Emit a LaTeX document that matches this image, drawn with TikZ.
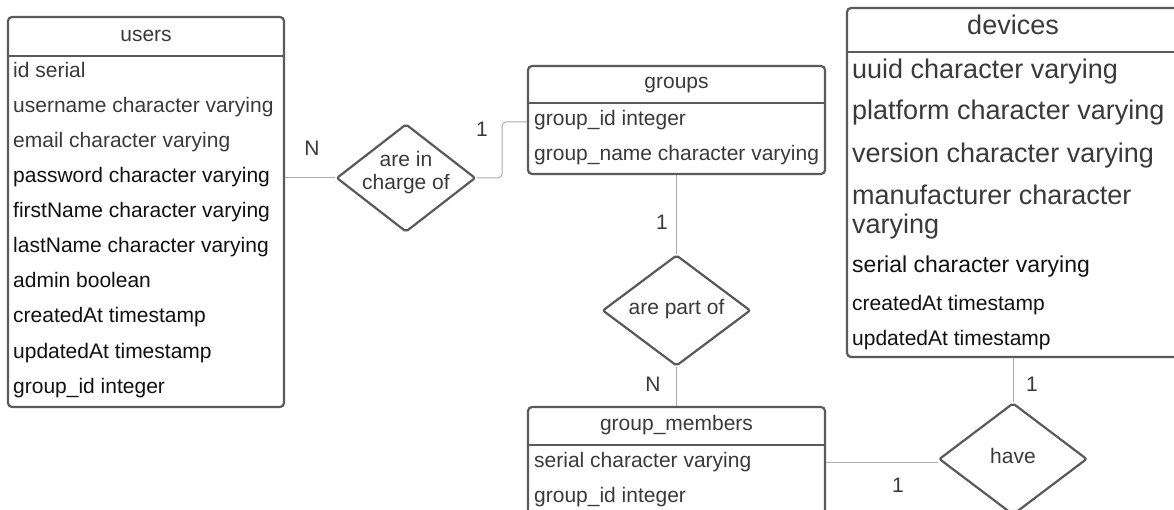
\documentclass[tikz,border=0pt]{standalone}
\usepackage{fontspec}
\setmainfont{Liberation Sans}
\usetikzlibrary{shapes.geometric,calc}
\definecolor{bordc}{HTML}{5A5A5A}
\definecolor{connc}{HTML}{ABABAB}
\definecolor{gtext}{HTML}{3A3A3A}
\definecolor{btext}{HTML}{111111}
\begin{document}
\begin{tikzpicture}[x=1pt,y=-1pt,
  tbl/.style={draw=bordc, line width=2.2pt, rounded corners=4pt, inner sep=0pt, fill=white},
  hline/.style={draw=bordc, line width=2.2pt},
  rel/.style={diamond, draw=bordc, line width=2.2pt, rounded corners=2pt, inner sep=0pt, fill=white},
  conn/.style={draw=connc, line width=1pt},
  row/.style={anchor=base west, inner sep=0pt, text=gtext, font=\fontsize{21pt}{25pt}\selectfont},
  brow/.style={row, text=btext},
  big/.style={font=\fontsize{27pt}{31pt}\selectfont},
  mid/.style={font=\fontsize{23pt}{27pt}\selectfont},
  head/.style={anchor=base, inner sep=0pt, text=gtext, font=\fontsize{21pt}{25pt}\selectfont},
  lbl/.style={anchor=base, inner sep=0pt, text=gtext, font=\fontsize{21pt}{25pt}\selectfont}
]
\useasboundingbox (0,0) rectangle (1174,510);
\fill[white] (0,0) rectangle (1174,510);
\clip (0,0) rectangle (1174,510);

% relationship diamonds
\node[rel, minimum width=139pt, minimum height=108pt] (charge) at (406,178) {};
\node[lbl] (charget1) at (406,167) {are in};
\node[lbl] (charget2) at (406,190) {charge of};
\node[rel, minimum width=148pt, minimum height=111pt] (partof) at (676.5,310.5) {};
\node[lbl] (partoft) at (676.5,314) {are part of};
\node[rel, minimum width=148pt, minimum height=112pt] (have) at (1013,459) {};
\node[lbl] (havet) at (1013,463) {have};

% users table
\node[tbl, minimum width=276pt, minimum height=390pt] (users) at (146,212) {};
\draw[hline] (users.west |- 0,56) -- (users.east |- 0,56);
\node[head] (usersh) at (146,42) {users};
\node[row] (u1) at (13,78) {id serial};
\node[row] (u2) at (13,113) {username character varying};
\node[row] (u3) at (13,148) {email character varying};
\node[brow] (u4) at (13,183) {password character varying};
\node[brow] (u5) at (13,218) {firstName character varying};
\node[brow] (u6) at (13,253) {lastName character varying};
\node[brow] (u7) at (13,288) {admin boolean};
\node[brow] (u8) at (13,323) {createdAt timestamp};
\node[brow] (u9) at (13,358) {updatedAt timestamp};
\node[brow] (u10) at (13,393) {group\_id integer};

% groups table
\node[tbl, minimum width=297pt, minimum height=108pt] (groups) at (676.5,120) {};
\draw[hline] (groups.west |- 0,103) -- (groups.east |- 0,103);
\node[head] (groupsh) at (676.5,89) {groups};
\node[row] (g1) at (534,126) {group\_id integer};
\node[row] (g2) at (534,161) {group\_name character varying};

% group_members table
\node[tbl, minimum width=297pt, minimum height=133pt] (gm) at (676.5,473.5) {};
\draw[hline] (gm.west |- 0,445) -- (gm.east |- 0,445);
\node[head] (gmh) at (676.5,430) {group\_members};
\node[row] (m1) at (534,467) {serial character varying};
\node[row] (m2) at (534,502) {group\_id integer};

% devices table
\node[tbl, minimum width=332pt, minimum height=349pt] (devices) at (1013,182.5) {};
\draw[hline] (devices.west |- 0,52) -- (devices.east |- 0,52);
\node[head, big] (devh) at (1013,35) {devices};
\node[row, big] (d1) at (852,79) {uuid character varying};
\node[row, big] (d2) at (852,120) {platform character varying};
\node[row, big] (d3) at (852,163) {version character varying};
\node[row, big] (d4) at (852,205) {manufacturer character};
\node[row, big] (d5) at (852,234) {varying};
\node[brow, mid] (d6) at (852,273) {serial character varying};
\node[brow] (d7) at (852,310) {createdAt timestamp};
\node[brow] (d8) at (852,345) {updatedAt timestamp};

% connectors
\draw[conn] (users.east |- charge.west) -- (charge.west);
\coordinate (bend) at (502,122);
\draw[conn, rounded corners=4pt] (charge.east) -| (bend) -- (bend -| groups.west);
\draw[conn] (groups.south) -- (partof.north);
\draw[conn] (partof.south) -- (gm.north);
\draw[conn] (gm.east |- 0,462) -- (have.west |- 0,462);
\draw[conn] (devices.south) -- (have.north);

% cardinality labels
\node[lbl] (c1) at (312,156) {N};
\node[lbl] (c2) at (482,137) {1};
\node[lbl] (c3) at (662,230) {1};
\node[lbl] (c4) at (653,391) {N};
\node[lbl] (c5) at (1032,391) {1};
\node[lbl] (c6) at (898,492) {1};
\end{tikzpicture}
\end{document}
